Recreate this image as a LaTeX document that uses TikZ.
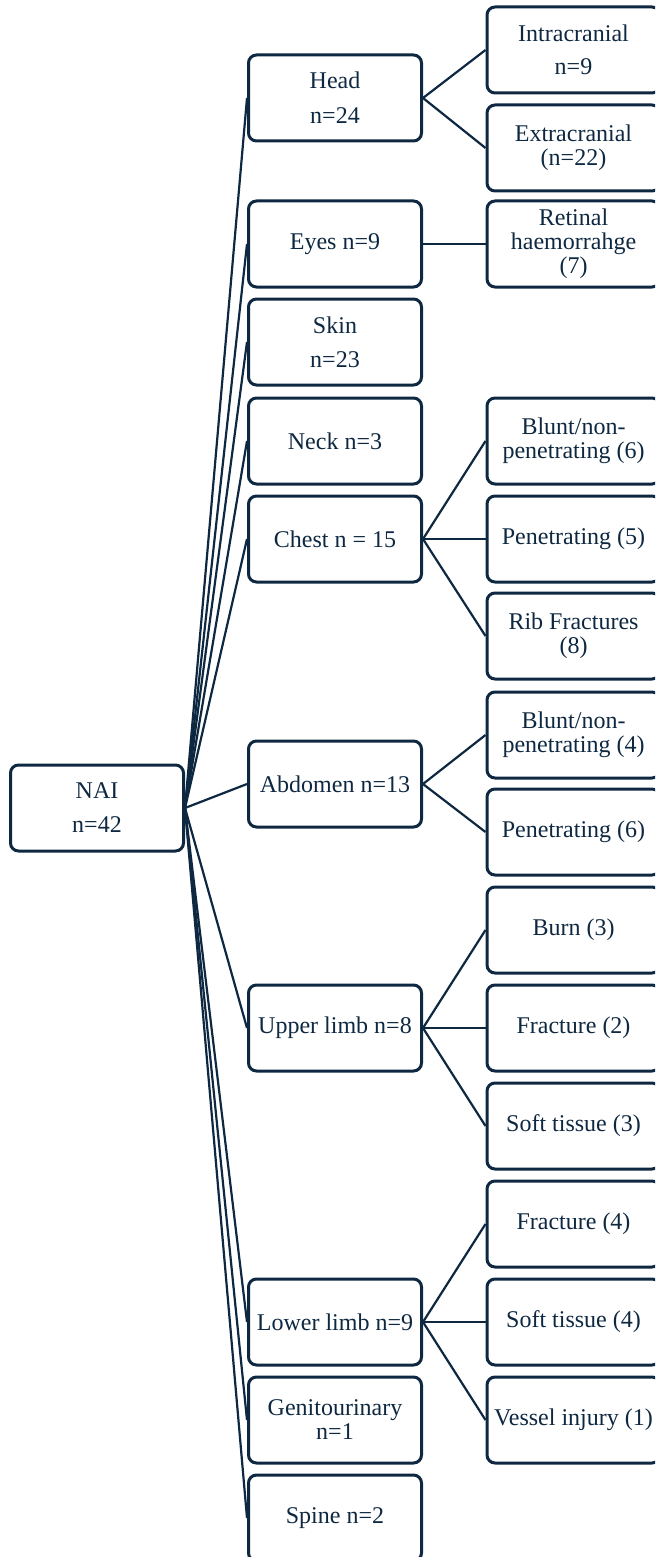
\documentclass[tikz,border=0pt]{standalone}
\usepackage{fontspec}
\setmainfont{Liberation Serif}
\newfontfamily\tnr{Liberation Serif}
\definecolor{navy}{HTML}{0E2841}
\begin{document}
\begin{tikzpicture}[x=0.5pt,y=-0.5pt,
  box/.style={draw=navy, line width=1.5pt, rounded corners=4pt,
    minimum width=86.5pt, minimum height=43pt, inner sep=1pt,
    align=center, text=navy, font=\tnr\fontsize{12}{12}\selectfont},
  link/.style={draw=navy, line width=1.1pt}]
\useasboundingbox (0,0) rectangle (655,1557);
\clip (0,0) rectangle (655,1557);
% root
\node[box] (nai) at (97,808) {NAI\\[5pt]n=42};
% middle column
\node[box] (head)  at (335,98)   {Head\\[5.5pt]n=24};
\node[box] (eyes)  at (335,244)  {Eyes n=9};
\node[box] (skin)  at (335,342)  {Skin\\[5pt]n=23};
\node[box] (neck)  at (335,441)  {Neck n=3};
\node[box] (chest) at (335,539)  {Chest n = 15};
\node[box] (abd)   at (335,784)  {Abdomen n=13};
\node[box] (upper) at (335,1028) {Upper limb n=8};
\node[box] (lower) at (335,1322) {Lower limb n=9};
\node[box] (geni)  at (335,1420) {Genitourinary\\n=1};
\node[box] (spine) at (335,1518) {Spine n=2};
% right column
\node[box] (intra)  at (573.5,50)   {Intracranial\\[4.5pt]n=9};
\node[box] (extra)  at (573.5,148)  {Extracranial\\(n=22)};
\node[box] (ret)    at (573.5,244)  {Retinal\\haemorrahge\\(7)};
\node[box] (cblunt) at (573.5,441)  {Blunt/non-\\penetrating (6)};
\node[box] (cpen)   at (573.5,539)  {Penetrating (5)};
\node[box] (rib)    at (573.5,636)  {Rib Fractures\\(8)};
\node[box] (ablunt) at (573.5,735)  {Blunt/non-\\penetrating (4)};
\node[box] (apen)   at (573.5,832)  {Penetrating (6)};
\node[box] (burn)   at (573.5,930)  {Burn (3)};
\node[box] (ufrac)  at (573.5,1028) {Fracture (2)};
\node[box] (usoft)  at (573.5,1126) {Soft tissue (3)};
\node[box] (lfrac)  at (573.5,1224) {Fracture (4)};
\node[box] (lsoft)  at (573.5,1322) {Soft tissue (4)};
\node[box] (vessel) at (573.5,1420) {Vessel injury (1)};
% connectors root -> middle
\foreach \m in {head,eyes,skin,neck,chest,abd,upper,lower,geni,spine}
  \draw[link] (nai.east) -- (\m.west);
% connectors middle -> right
\draw[link] (head.east) -- (intra.west);
\draw[link] (head.east) -- (extra.west);
\draw[link] (eyes.east) -- (ret.west);
\draw[link] (chest.east) -- (cblunt.west);
\draw[link] (chest.east) -- (cpen.west);
\draw[link] (chest.east) -- (rib.west);
\draw[link] (abd.east) -- (ablunt.west);
\draw[link] (abd.east) -- (apen.west);
\draw[link] (upper.east) -- (burn.west);
\draw[link] (upper.east) -- (ufrac.west);
\draw[link] (upper.east) -- (usoft.west);
\draw[link] (lower.east) -- (lfrac.west);
\draw[link] (lower.east) -- (lsoft.west);
\draw[link] (lower.east) -- (vessel.west);
\end{tikzpicture}
\end{document}
